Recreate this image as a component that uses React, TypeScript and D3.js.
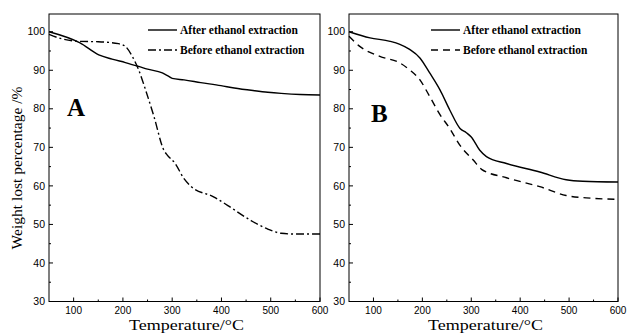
import React from "react";
import * as d3 from "d3";

const tempAfterA = [50, 113, 151, 178, 205, 232, 250, 280, 293, 300, 324, 358, 399, 426, 467, 494, 521, 560, 600];
const valAfterA = [100, 97.1, 94, 92.9, 92, 91, 90.3, 89.3, 88.4, 87.9, 87.5, 86.8, 86, 85.4, 84.7, 84.3, 84.0, 83.7, 83.6];
const tempBeforeA = [50, 75, 110, 150, 191, 205, 219, 232, 246, 263, 283, 290, 305, 324, 338, 385, 413, 460, 494, 521, 549, 600];
const valBeforeA = [99.3, 98.2, 97.5, 97.4, 96.9, 96.2, 93.6, 90.1, 84.9, 78.0, 69.3, 68, 66, 61.9, 59.9, 57.1, 54.9, 51, 48.8, 47.7, 47.5, 47.5];

const tempAfterB = [50, 93, 134, 154, 174, 195, 215, 236, 256, 277, 290, 300, 317, 331, 372, 440, 494, 528, 600];
const valAfterB = [100, 98.4, 97.5, 96.7, 95.4, 93.2, 89.3, 84.9, 79.7, 74.9, 73.8, 72.7, 69.3, 67.6, 65.8, 63.6, 61.6, 61.2, 61.0];
const tempBeforeB = [50, 72, 113, 154, 174, 195, 215, 236, 256, 277, 304, 321, 372, 440, 494, 535, 600];
const valBeforeB = [98.8, 96.2, 93.6, 91.9, 90.1, 87.5, 83.2, 78.5, 74.9, 70.5, 66.7, 64.3, 62.1, 59.8, 57.5, 56.9, 56.5];

const xTicks = [100, 200, 300, 400, 500, 600];
const xMinor = [150, 250, 350, 450, 550];
const yTicks = [30, 40, 50, 60, 70, 80, 90, 100];
const yMinor = [35, 45, 55, 65, 75, 85, 95];

const legendLabels = ["After ethanol extraction", "Before ethanol extraction"];
const xLabel = "Temperature/°C";
const yLabel = "Weight lost percentage /%";

type PanelProps = {
  x0: number;
  x1: number;
  letter: string;
  letterX: number;
  letterY: number;
  after: [number[], number[]];
  before: [number[], number[]];
  beforeDash: string;
  legendX: number;
};

const top = 14;
const bottom = 301.5;

function Panel(p: PanelProps) {
  const x = d3.scaleLinear().domain([50, 600]).range([p.x0, p.x1]);
  const y = d3.scaleLinear().domain([30, 104.6]).range([bottom, top]);
  const line = d3
    .line<[number, number]>()
    .x((d) => x(d[0]))
    .y((d) => y(d[1]))
    .curve(d3.curveMonotoneX);
  const aPts = p.after[0].map((t, i) => [t, p.after[1][i]] as [number, number]);
  const bPts = p.before[0].map((t, i) => [t, p.before[1][i]] as [number, number]);
  const tickFont = "'Liberation Sans', Arial, sans-serif";
  const serif = "'Liberation Serif', 'Times New Roman', serif";
  return (
    <g>
      <rect x={p.x0} y={top} width={p.x1 - p.x0} height={bottom - top} fill="none" stroke="#000" strokeWidth={1} />
      {yTicks.map((v) => (
        <g key={"y" + v}>
          <line x1={p.x0} x2={p.x0 + 4} y1={y(v)} y2={y(v)} stroke="#000" />
          <text x={p.x0 - 4} y={y(v)} dy="0.35em" textAnchor="end" fontSize={10.5} fontFamily={tickFont}>
            {v}
          </text>
        </g>
      ))}
      {yMinor.map((v) => (
        <line key={"ym" + v} x1={p.x0} x2={p.x0 + 2} y1={y(v)} y2={y(v)} stroke="#000" />
      ))}
      {xTicks.map((v) => (
        <g key={"x" + v}>
          <line x1={x(v)} x2={x(v)} y1={bottom} y2={bottom - 4} stroke="#000" />
          <text x={x(v)} y={313.5} textAnchor="middle" fontSize={10} fontFamily={tickFont}>
            {v}
          </text>
        </g>
      ))}
      {xMinor.map((v) => (
        <line key={"xm" + v} x1={x(v)} x2={x(v)} y1={bottom} y2={bottom - 2} stroke="#000" />
      ))}
      <path d={line(aPts) || ""} fill="none" stroke="#000" strokeWidth={1.4} />
      <path d={line(bPts) || ""} fill="none" stroke="#000" strokeWidth={1.4} strokeDasharray={p.beforeDash} />
      <line x1={p.legendX} x2={p.legendX + 29} y1={30} y2={30} stroke="#000" strokeWidth={1.4} />
      <text x={p.legendX + 32} y={34} fontSize={11.5} fontWeight="bold" fontFamily={serif}>
        {legendLabels[0]}
      </text>
      <line x1={p.legendX} x2={p.legendX + 29} y1={50} y2={50} stroke="#000" strokeWidth={1.4} strokeDasharray={p.beforeDash} />
      <text x={p.legendX + 32} y={54} fontSize={11.5} fontWeight="bold" fontFamily={serif}>
        {legendLabels[1]}
      </text>
      <text x={p.letterX} y={p.letterY} fontSize={25} fontWeight="bold" fontFamily={serif}>
        {p.letter}
      </text>
      <text
        x={(p.x0 + p.x1) / 2 + 2}
        y={330}
        textAnchor="middle"
        fontSize={15}
        fontFamily={serif}
        textLength={115}
        lengthAdjust="spacingAndGlyphs"
      >
        {xLabel}
      </text>
    </g>
  );
}

export default function App() {
  return (
    <svg width={627} height={336} style={{ position: "absolute", left: 0, top: 0, background: "#fff" }}>
      <rect x={0} y={0} width={627} height={336} fill="#fff" />
      <Panel
        x0={49}
        x1={320}
        letter="A"
        letterX={67}
        letterY={116}
        after={[tempAfterA, valAfterA]}
        before={[tempBeforeA, valBeforeA]}
        beforeDash="8,3,2,3"
        legendX={148}
      />
      <Panel
        x0={349}
        x1={618}
        letter="B"
        letterX={371}
        letterY={122}
        after={[tempAfterB, valAfterB]}
        before={[tempBeforeB, valBeforeB]}
        beforeDash="7,5"
        legendX={431}
      />
      <text
        transform="translate(22,168) rotate(-90)"
        textAnchor="middle"
        fontSize={15.5}
        fontFamily="'Liberation Serif', 'Times New Roman', serif"
      >
        {yLabel}
      </text>
    </svg>
  );
}
